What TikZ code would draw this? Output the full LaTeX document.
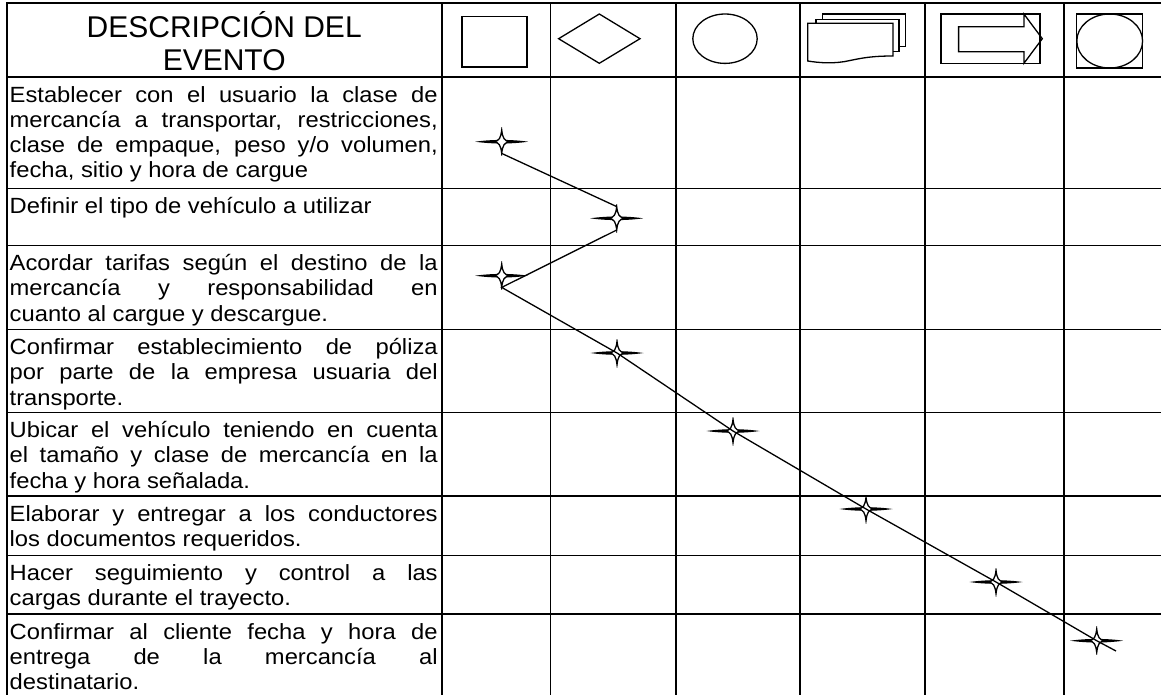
\documentclass[tikz,border=0pt]{standalone}
\usepackage{fontspec}
\setmainfont{Liberation Sans}[FakeStretch=1.08]
\newfontfamily\hdfont{Liberation Sans}
\newcommand\jline[1]{\makebox[428pt][s]{#1}}
\begin{document}
\begin{tikzpicture}[x=1pt,y=-1pt,
  grid/.style={line width=1.9pt},
  sym/.style={line width=1.3pt},
  body/.style={anchor=base west,inner sep=0pt,font=\fontsize{22}{25.3}\selectfont},
  head/.style={anchor=base,inner sep=0pt,font=\hdfont\fontsize{30}{34}\selectfont},
  starm/.style={inner sep=0pt,minimum width=58pt,minimum height=28pt,
    path picture={
      \fill[shift={(path picture bounding box.center)}]
        (-26.5,0) .. controls (-10,-2.4) and (10,-2.4) .. (26.5,0)
        .. controls (10,2.4) and (-10,2.4) .. cycle;
      \draw[line width=1.3pt,fill=white,shift={(path picture bounding box.center)}]
        (8,0) .. controls (2.5,0.8) and (1,3.5) .. (0,11.7)
        .. controls (-1,3.5) and (-2.5,0.8) .. (-8,0)
        .. controls (-2.5,-0.8) and (-1,-3.5) .. (0,-11.7)
        .. controls (1,-3.5) and (2.5,-0.8) .. cycle;}},
  link/.style={line width=1.3pt}]
\useasboundingbox (0,0) rectangle (1161,694);
\clip (0,0) rectangle (1161,694);
% grid
\foreach \y in {3,77,188.5,245.5,329.5,412.5,496,555.5,614}
  \draw[grid,line cap=rect] (6.7,\y) -- (1200,\y);
\foreach \x in {6.7,441.7,550.5,676,800,925,1064}
  \draw[grid,line cap=rect] (\x,3) -- (\x,710);
% header
\node[head] (h1) at (224.2,37.5) {DESCRIPCIÓN DEL};
\node[head] (h2) at (224.2,70.5) {EVENTO};
% header symbols
\draw[sym] (462,16.5) rectangle (527,67);
\draw[sym] (558.6,38.7) -- (599.3,14) -- (640,38.7) -- (599.3,63.3) -- cycle;
\draw[sym] (725,38.7) ellipse [x radius=32.2,y radius=24.7];
\draw[sym,fill=white] (822.5,14) rectangle (905.3,46.7);
\draw[sym,fill=white] (816.1,19.3) rectangle (898.9,51.7);
\draw[sym,fill=white] (807.8,23.3) -- (892.9,23.3) -- (892.9,56)
  .. controls (872,56) and (862,58) .. (850,60.5)
  .. controls (835,64) and (820,63) .. (807.8,61) -- cycle;
\draw[sym] (941.1,14) rectangle (1040,63.3);
\draw[sym] (958.6,26.7) -- (1023.9,26.7) -- (1023.9,14) -- (1042.3,38.7)
  -- (1023.9,63.3) -- (1023.9,51.7) -- (958.6,51.7) -- cycle;
\draw[sym] (1076.8,14) rectangle (1142.6,68);
\draw[sym] (1109.7,41) ellipse [x radius=32.9,y radius=27];
% body text
\node[body] (t1a) at (9.5,102) {\jline{Establecer con el usuario la clase de}};
\node[body] (t1b) at (9.5,127.3) {\jline{mercancía a transportar, restricciones,}};
\node[body] (t1c) at (9.5,152.6) {\jline{clase de empaque, peso y/o volumen,}};
\node[body] (t1d) at (9.5,177.9) {fecha, sitio y hora de cargue};
\node[body] (t2a) at (9.5,213.5) {Definir el tipo de vehículo a utilizar};
\node[body] (t3a) at (9.5,270.5) {\jline{Acordar tarifas según el destino de la}};
\node[body] (t3b) at (9.5,295.8) {\jline{mercancía y responsabilidad en}};
\node[body] (t3c) at (9.5,321.1) {cuanto al cargue y descargue.};
\node[body] (t4a) at (9.5,354.5) {\jline{Confirmar establecimiento de póliza}};
\node[body] (t4b) at (9.5,379.8) {\jline{por parte de la empresa usuaria del}};
\node[body] (t4c) at (9.5,405.1) {transporte.};
\node[body] (t5a) at (9.5,437.5) {\jline{Ubicar el vehículo teniendo en cuenta}};
\node[body] (t5b) at (9.5,462.8) {\jline{el tamaño y clase de mercancía en la}};
\node[body] (t5c) at (9.5,488.1) {fecha y hora señalada.};
\node[body] (t6a) at (9.5,521) {\jline{Elaborar y entregar a los conductores}};
\node[body] (t6b) at (9.5,546.3) {los documentos requeridos.};
\node[body] (t7a) at (9.5,580.5) {\jline{Hacer seguimiento y control a las}};
\node[body] (t7b) at (9.5,605.8) {cargas durante el trayecto.};
\node[body] (t8a) at (9.5,639) {\jline{Confirmar al cliente fecha y hora de}};
\node[body] (t8b) at (9.5,664.3) {\jline{entrega de la mercancía al}};
\node[body] (t8c) at (9.5,689.6) {destinatario.};
% star markers
\node[starm] (s1) at (501.7,141.7) {};
\node[starm] (s2) at (616.7,218.3) {};
\node[starm] (s3) at (501.7,275.7) {};
\node[starm] (s4) at (617,353) {};
\node[starm] (s5) at (733,431) {};
\node[starm] (s6) at (866,509) {};
\node[starm] (s7) at (996,582) {};
\node[starm] (s8) at (1096.7,640.7) {};
\coordinate (e) at (1116,651);
% connectors
\path (s1.center) ++(0,11.7) coordinate (s1b) (s2.center) ++(0,-11.7) coordinate (s2t);
\path (s2.center) ++(0,11.7) coordinate (s2b) (s3.center) ++(0,11.7) coordinate (s3b);
\draw[link] (s1b) -- (s2t);
\draw[link] (s2b) -- (s3b) -- (s4.center) -- (s5.center) -- (s6.center) -- (s7.center) -- (s8.center) -- (e);
\end{tikzpicture}
\end{document}
